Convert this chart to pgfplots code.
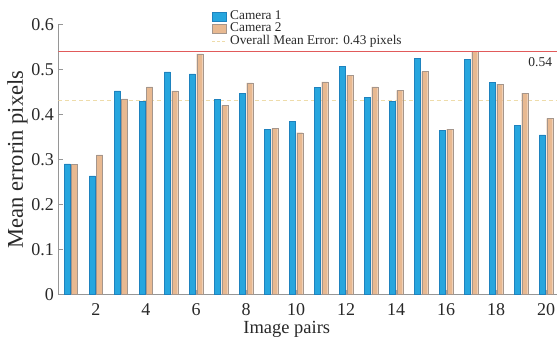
\documentclass[border=0pt]{standalone}
\usepackage{fontspec}
\setmainfont{Liberation Serif}
\usepackage{pgfplots}
\usepackage{pgfplotstable}
\pgfplotsset{compat=1.18}
\definecolor{camA}{RGB}{38,166,222}
\definecolor{camAedge}{RGB}{30,130,190}
\definecolor{camB}{RGB}{232,185,145}
\definecolor{camBedge}{RGB}{165,150,140}
\definecolor{axgray}{RGB}{150,150,150}
\definecolor{meanline}{RGB}{238,220,170}
\definecolor{redref}{RGB}{225,90,90}
\definecolor{txt}{RGB}{40,40,40}
\pgfplotstableread{
x y
1 0.290
2 0.263
3 0.452
4 0.428
5 0.494
6 0.490
7 0.433
8 0.447
9 0.366
10 0.384
11 0.460
12 0.506
13 0.438
14 0.429
15 0.524
16 0.364
17 0.522
18 0.471
19 0.376
20 0.354
}\camone
\pgfplotstableread{
x y
1 0.289
2 0.310
3 0.434
4 0.461
5 0.452
6 0.534
7 0.420
8 0.470
9 0.368
10 0.359
11 0.472
12 0.487
13 0.461
14 0.453
15 0.495
16 0.367
17 0.540
18 0.467
19 0.447
20 0.391
}\camtwo
\begin{document}
\begin{tikzpicture}
\begin{axis}[
  name=ax,
  scale only axis, width=498.5pt, height=270pt,
  xmin=0.5, xmax=20.44, ymin=0, ymax=0.6,
  axis x line*=bottom, axis y line*=left,
  axis line style={draw=axgray, line width=0.6pt},
  xtick={2,4,...,20},
  ytick={0,0.1,0.2,0.3,0.4,0.5,0.6},
  tick align=inside, major tick length=4pt,
  tick style={draw=axgray, line width=0.5pt},
  /pgf/number format/assume math mode=true,
  ticklabel style={font=\fontsize{18}{18}\selectfont, text=txt},
  yticklabel style={xshift=-1pt},
  xticklabel style={yshift=-6pt},
  xlabel={Image pairs}, ylabel={Mean errorin pixels},
  xlabel style={font=\fontsize{18.5}{18.5}\selectfont, text=txt, yshift=2pt, xshift=-21pt},
  ylabel style={font=\fontsize{22.5}{22.5}\selectfont, text=txt, yshift=-3pt},
  legend cell align=left,
  legend style={at={(axis description cs:0.307,1.053)}, anchor=north west,
    draw=none, fill=none, inner sep=0pt, row sep=0.4pt, column sep=3pt,
    font=\fontsize{13.3}{13.3}\selectfont, text=txt,
    nodes={inner sep=0.8pt, text height=8.5pt, text depth=2pt}},
]
\addplot[sharp plot, no marks, color=meanline, line width=0.7pt, dash pattern=on 4pt off 3pt, forget plot]
  coordinates {(0.5,0.43) (20.44,0.43)};
\addplot[ybar, bar width=6pt, bar shift=-3.7pt, fill=camA, draw=camAedge, line width=0.4pt,
  legend image code/.code={\draw[fill=camA, draw=camAedge, line width=0.4pt] (0pt,-4.5pt) rectangle (14pt,4.5pt);}]
  table[x=x, y=y] {\camone};
\addlegendentry{Camera 1}
\addplot[ybar, bar width=6pt, bar shift=3.7pt, fill=camB, draw=camBedge, line width=0.4pt,
  legend image code/.code={\draw[fill=camB, draw=camBedge, line width=0.4pt] (0pt,-4.5pt) rectangle (14pt,4.5pt);}]
  table[x=x, y=y] {\camtwo};
\addlegendentry{Camera 2}
\addlegendimage{color=meanline, line width=0.7pt, dash pattern=on 3pt off 2pt,
  legend image code/.code={\draw[color=meanline, line width=0.7pt, dash pattern=on 3pt off 2pt] (0pt,0pt) -- (14pt,0pt);}}
\addlegendentry{Overall Mean Error: 0.43 pixels}
\addplot[sharp plot, mark=none, color=redref, draw=redref, line width=1.5pt, forget plot]
  coordinates {(0.5,0.54) (20.44,0.54)};
\node[anchor=east, font=\fontsize{13.5}{13.5}\selectfont, text=txt, inner sep=0pt] at (axis cs:20.25,0.515) {0.54};
\coordinate (A) at (rel axis cs:0,0);
\coordinate (B) at (rel axis cs:1,1);
\end{axis}
\pgfresetboundingbox
\path[use as bounding box] ([xshift=-58.5pt,yshift=-42.7pt]A) rectangle ([yshift=24.3pt]B);
\end{tikzpicture}
\end{document}
